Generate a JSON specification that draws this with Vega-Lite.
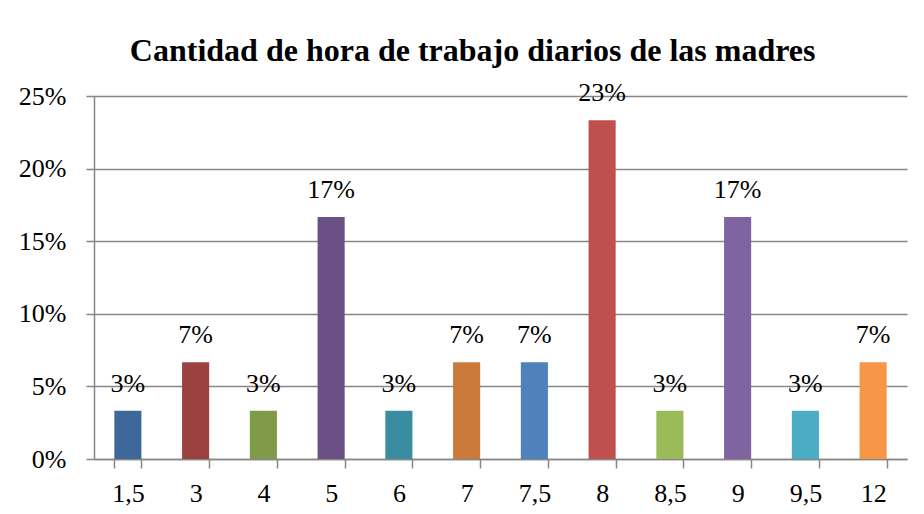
{
  "$schema": "https://vega.github.io/schema/vega-lite/v6.json",
  "width": 813,
  "height": 363,
  "padding": {"left": 18, "top": 35, "right": 16, "bottom": 5},
  "background": "white",
  "title": {
    "text": "Cantidad de hora de trabajo diarios de las madres",
    "font": "Liberation Serif",
    "fontSize": 32,
    "fontWeight": "bold",
    "color": "black",
    "anchor": "middle",
    "frame": "bounds",
    "dx": 10,
    "offset": 12
  },
  "data": {
    "values": [
      {"horas": "1,5", "pct": 0.0333, "color": "#3E6899"},
      {"horas": "3", "pct": 0.0667, "color": "#9B4240"},
      {"horas": "4", "pct": 0.0333, "color": "#7F9A48"},
      {"horas": "5", "pct": 0.1667, "color": "#6A5085"},
      {"horas": "6", "pct": 0.0333, "color": "#3A8CA0"},
      {"horas": "7", "pct": 0.0667, "color": "#CC7A3A"},
      {"horas": "7,5", "pct": 0.0667, "color": "#4F81BD"},
      {"horas": "8", "pct": 0.2333, "color": "#C0504D"},
      {"horas": "8,5", "pct": 0.0333, "color": "#9BBB59"},
      {"horas": "9", "pct": 0.1667, "color": "#8064A2"},
      {"horas": "9,5", "pct": 0.0333, "color": "#4BACC6"},
      {"horas": "12", "pct": 0.0667, "color": "#F79646"}
    ]
  },
  "encoding": {
    "x": {
      "field": "horas",
      "type": "nominal",
      "sort": null,
      "scale": {"paddingInner": 0.6, "paddingOuter": 0.3},
      "axis": {
        "title": null,
        "labelAngle": 0,
        "labelFont": "Liberation Serif",
        "labelFontSize": 26,
        "labelColor": "black",
        "labelPadding": 12,
        "tickBand": "extent",
        "tickSize": 9,
        "tickColor": "#878787",
        "domainColor": "#878787",
        "grid": false
      }
    },
    "y": {
      "field": "pct",
      "type": "quantitative",
      "scale": {"domain": [0, 0.25], "nice": false},
      "axis": {
        "title": null,
        "format": ".0%",
        "values": [0, 0.05, 0.1, 0.15, 0.2, 0.25],
        "labelOverlap": false,
        "labelFont": "Liberation Serif",
        "labelFontSize": 26,
        "labelColor": "black",
        "labelPadding": 20,
        "tickSize": 8,
        "tickColor": "#878787",
        "domainColor": "#878787",
        "grid": true,
        "gridColor": "#878787",
        "gridOpacity": 1
      }
    }
  },
  "layer": [
    {
      "mark": {"type": "bar"},
      "encoding": {
        "color": {"field": "color", "type": "nominal", "scale": null}
      }
    },
    {
      "mark": {
        "type": "text",
        "baseline": "bottom",
        "dy": -14,
        "font": "Liberation Serif",
        "fontSize": 26,
        "color": "black"
      },
      "encoding": {
        "text": {"field": "pct", "type": "quantitative", "format": ".0%"}
      }
    }
  ],
  "config": {
    "font": "Liberation Serif",
    "view": {"stroke": null},
    "axis": {"domainWidth": 1.5, "gridWidth": 1.5, "tickWidth": 1.5, "labelFont": "Liberation Serif"}
  }
}
